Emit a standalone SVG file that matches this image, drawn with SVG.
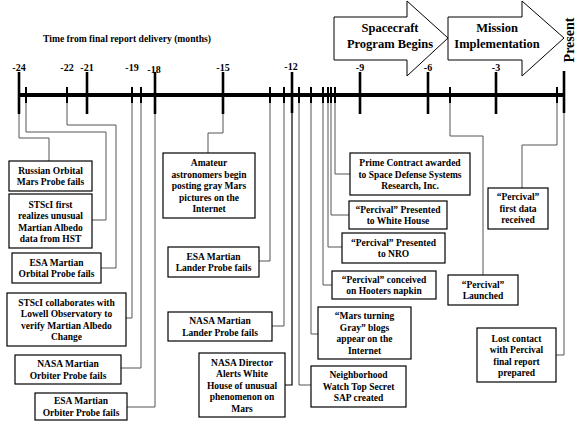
<svg xmlns="http://www.w3.org/2000/svg" width="576" height="424" viewBox="0 0 576 424">
<style>
text{font-family:"Liberation Serif","Times New Roman",serif;font-weight:bold;fill:#000}
.t{font-size:9.5px;text-anchor:middle}
.lbl{font-size:10px;text-anchor:middle}
.box{fill:#fff;stroke:#000;stroke-width:1.2}
.conn path{fill:none;stroke:#555;stroke-width:1}
.tall{stroke:#000;stroke-width:2.6}
.short{stroke:#000;stroke-width:2}
.arrow{fill:#fff;stroke:#000;stroke-width:1}
.big{font-size:12.5px;text-anchor:middle}
</style>
<rect width="576" height="424" fill="#fff"/>
<g id="phase-arrows">
<polygon class="arrow" points="334,17 407,17 407,1 448,38 407,76 407,60 334,60"/>
<text class="big" x="390" y="32">Spacecraft</text>
<text class="big" x="390" y="48">Program Begins</text>
<polygon class="arrow" points="448,17 522,17 522,1 564,38 522,76 522,60 448,60"/>
<text class="big" x="497" y="32">Mission</text>
<text class="big" x="497" y="48">Implementation</text>
<text x="574" y="40" font-size="14" text-anchor="middle" transform="rotate(-90 574 40)">Present</text>
</g>
<text x="43" y="41.5" font-size="9.5" textLength="168" lengthAdjust="spacingAndGlyphs">Time from final report delivery (months)</text>
<g class="conn" id="connectors">
<path d="M19,114 V138 H49 V161"/>
<path d="M26,103 V132 H106 V220 H92"/>
<path d="M67,103 V125 H116 V268 H101"/>
<path d="M132,103 V318 H126"/>
<path d="M141,103 V368 H121"/>
<path d="M155,114 V407 H127"/>
<path d="M223,114 V133 H208 V153"/>
<path d="M270,103 V261 H259"/>
<path d="M284,103 V326 H272"/>
<path d="M292,113 V385 H285" style="stroke:#000;stroke-width:1.2"/>
<path d="M299,103 V385 H311"/>
<path d="M311,103 V334 H318"/>
<path d="M323,103 V285 H332"/>
<path d="M328,103 V247 H342"/>
<path d="M331,103 V215 H349"/>
<path d="M335,103 V174 H350"/>
<path d="M450,103 V136 H483 V275"/>
<path d="M557,103 V145 H522 V188"/>
<path d="M564,113 V355 H556"/>
</g>
<g id="timeline">
<line x1="19" y1="95" x2="565" y2="95" stroke="#000" stroke-width="4"/>
<g class="tall">
<line x1="19" y1="72" x2="19" y2="114"/>
<line x1="87" y1="72" x2="87" y2="114"/>
<line x1="155" y1="72" x2="155" y2="114"/>
<line x1="223" y1="72" x2="223" y2="114"/>
<line x1="292" y1="72" x2="292" y2="113"/>
<line x1="360" y1="72" x2="360" y2="114"/>
<line x1="428" y1="72" x2="428" y2="114"/>
<line x1="496" y1="72" x2="496" y2="114"/>
<line x1="564" y1="71" x2="564" y2="113"/>
</g>
<g class="short">
<line x1="26" y1="87" x2="26" y2="103"/>
<line x1="67" y1="87" x2="67" y2="103"/>
<line x1="132" y1="87" x2="132" y2="103"/>
<line x1="141" y1="87" x2="141" y2="103"/>
<line x1="270" y1="87" x2="270" y2="103"/>
<line x1="284" y1="87" x2="284" y2="103"/>
<line x1="299" y1="87" x2="299" y2="103"/>
<line x1="311" y1="87" x2="311" y2="103"/>
<line x1="323" y1="87" x2="323" y2="103"/>
<line x1="328" y1="87" x2="328" y2="103"/>
<line x1="331" y1="87" x2="331" y2="103"/>
<line x1="335" y1="87" x2="335" y2="103"/>
<line x1="450" y1="87" x2="450" y2="103"/>
<line x1="557" y1="87" x2="557" y2="103"/>
</g>
<text class="lbl" x="19" y="71">-24</text>
<text class="lbl" x="67" y="71">-22</text>
<text class="lbl" x="87" y="71">-21</text>
<text class="lbl" x="132" y="71">-19</text>
<text class="lbl" x="154" y="73">-18</text>
<text class="lbl" x="223" y="71">-15</text>
<text class="lbl" x="291" y="69.5">-12</text>
<text class="lbl" x="360" y="71">-9</text>
<text class="lbl" x="428" y="71">-6</text>
<text class="lbl" x="496" y="71">-3</text>
</g>
<g id="n1"><rect class="box" x="9" y="161" width="83" height="30"/>
<text class="t" x="50.5" y="173.5">Russian Orbital</text><text class="t" x="50.5" y="185">Mars Probe fails</text></g>
<g id="n2"><rect class="box" x="9" y="194" width="83" height="54"/>
<text class="t" x="50.5" y="207.5">STScI first</text><text class="t" x="50.5" y="219">realizes unusual</text><text class="t" x="50.5" y="230.5">Martian Albedo</text><text class="t" x="50.5" y="242">data from HST</text></g>
<g id="n3"><rect class="box" x="12" y="253" width="89" height="30"/>
<text class="t" x="56.5" y="265.5">ESA Martian</text><text class="t" x="56.5" y="277">Orbital Probe fails</text></g>
<g id="n4"><rect class="box" x="7" y="293" width="119" height="53"/>
<text class="t" x="66.5" y="305.5">STScI collaborates with</text><text class="t" x="66.5" y="317">Lowell Observatory to</text><text class="t" x="66.5" y="328.5">verify Martian Albedo</text><text class="t" x="66.5" y="340">Change</text></g>
<g id="n5"><rect class="box" x="15" y="355" width="106" height="29"/>
<text class="t" x="68" y="367">NASA Martian</text><text class="t" x="68" y="378.5">Orbiter Probe fails</text></g>
<g id="n6"><rect class="box" x="35" y="393" width="92" height="27"/>
<text class="t" x="81" y="404">ESA Martian</text><text class="t" x="81" y="415.5">Orbiter Probe fails</text></g>
<g id="n7"><rect class="box" x="163" y="153" width="92" height="65"/>
<text class="t" x="209" y="166">Amateur</text><text class="t" x="209" y="177.5">astronomers begin</text><text class="t" x="209" y="189">posting gray Mars</text><text class="t" x="209" y="200.5">pictures on the</text><text class="t" x="209" y="212">Internet</text></g>
<g id="n8"><rect class="box" x="168" y="247" width="91" height="30"/>
<text class="t" x="213.5" y="259.5">ESA Martian</text><text class="t" x="213.5" y="271">Lander Probe fails</text></g>
<g id="n9"><rect class="box" x="168" y="312" width="104" height="29"/>
<text class="t" x="220" y="324">NASA Martian</text><text class="t" x="220" y="335.5">Lander Probe fails</text></g>
<g id="n10"><rect class="box" x="199" y="353" width="86" height="64"/>
<text class="t" x="242" y="365.5">NASA Director</text><text class="t" x="242" y="377">Alerts White</text><text class="t" x="242" y="388.5">House of unusual</text><text class="t" x="242" y="400">phenomenon on</text><text class="t" x="242" y="411.5">Mars</text></g>
<g id="n11"><rect class="box" x="311" y="366" width="95" height="41"/>
<text class="t" x="358.5" y="378">Neighborhood</text><text class="t" x="358.5" y="389.5">Watch Top Secret</text><text class="t" x="358.5" y="401">SAP created</text></g>
<g id="n12"><rect class="box" x="318" y="307" width="93" height="52"/>
<text class="t" x="364.5" y="319">“Mars turning</text><text class="t" x="364.5" y="330.5">Gray” blogs</text><text class="t" x="364.5" y="342">appear on the</text><text class="t" x="364.5" y="353.5">Internet</text></g>
<g id="n13"><rect class="box" x="332" y="271" width="104" height="28"/>
<text class="t" x="384" y="282.5">“Percival” conceived</text><text class="t" x="384" y="294">on Hooters napkin</text></g>
<g id="n14"><rect class="box" x="342" y="233" width="103" height="30"/>
<text class="t" x="393.5" y="245.5">“Percival” Presented</text><text class="t" x="393.5" y="257">to NRO</text></g>
<g id="n15"><rect class="box" x="349" y="201" width="98" height="28"/>
<text class="t" x="398" y="212.5">“Percival” Presented</text><text class="t" x="398" y="224">to White House</text></g>
<g id="n16"><rect class="box" x="350" y="153" width="120" height="42"/>
<text class="t" x="410" y="166">Prime Contract awarded</text><text class="t" x="410" y="177.5">to Space Defense Systems</text><text class="t" x="410" y="189">Research, Inc.</text></g>
<g id="n17"><rect class="box" x="448" y="275" width="70" height="30"/>
<text class="t" x="483" y="287.5">“Percival”</text><text class="t" x="483" y="299">Launched</text></g>
<g id="n18"><rect class="box" x="488" y="188" width="60" height="41"/>
<text class="t" x="518" y="200">“Percival”</text><text class="t" x="518" y="211.5">first data</text><text class="t" x="518" y="223">received</text></g>
<g id="n19"><rect class="box" x="477" y="328" width="79" height="54"/>
<text class="t" x="516.5" y="341.5">Lost contact</text><text class="t" x="516.5" y="353">with Percival</text><text class="t" x="516.5" y="364.5">final report</text><text class="t" x="516.5" y="376">prepared</text></g>
</svg>
